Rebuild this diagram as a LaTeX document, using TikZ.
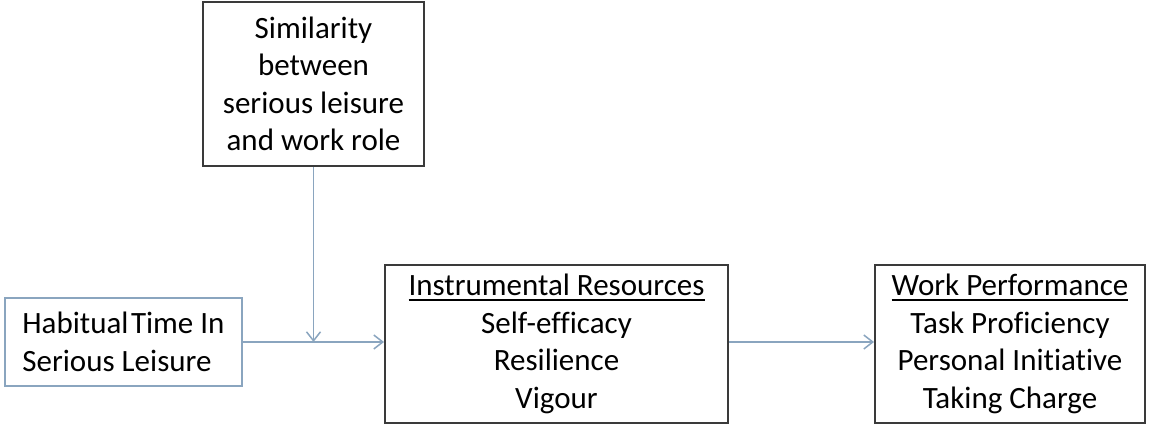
\documentclass[tikz,border=0pt]{standalone}
\usepackage{fontspec}
\setmainfont{Carlito}[Ligatures=NoCommon]
\usetikzlibrary{arrows.meta}
\definecolor{bluegray}{HTML}{8AA5BF}
\definecolor{boxline}{HTML}{3A3A3A}
\newcommand\ulx[1]{\leavevmode\vtop{\hbox{#1}\kern2.5pt\hrule height 2pt}}
\tikzset{
  blackbox/.style={draw=boxline, line width=2pt, fill=white, align=center,
    font=\fontsize{31}{37.5}\selectfont, inner sep=0pt},
  bluebox/.style={draw=bluegray, line width=1.8pt, fill=white, align=left,
    font=\fontsize{31}{37.5}\selectfont, inner sep=0pt},
  conn/.style={draw=bluegray, line width=1.5pt, -{Straight Barb[length=9pt,width=14pt,line width=1.5pt]}},
}
\begin{document}
\begin{tikzpicture}[x=1pt,y=-1pt]
\useasboundingbox (0,0) rectangle (1150,428);
\node[blackbox, minimum width=221pt, minimum height=164pt] (sim) at (313.5,84)
  {Similarity\\between\\serious leisure\\and work role};
\node[bluebox, minimum width=237pt, minimum height=88pt] (hab) at (123.5,342)
  {Habitual\kern0.08em Time In\\Serious Leisure};
\node[blackbox, minimum width=343pt, minimum height=158pt] (ins) at (556.5,344)
  {\ulx{Instrumental Resources}\\Self-efficacy\\Resilience\\Vigour};
\node[blackbox, minimum width=270pt, minimum height=158pt] (wp) at (1010,344)
  {\ulx{Work Performance}\\Task Proficiency\\Personal Initiative\\Taking Charge};
\coordinate (j) at (sim.south |- hab.east);
\draw[conn] (hab.east) -- (hab.east -| ins.west);
\draw[conn] (sim.south) -- (j);
\draw[conn] (ins.east |- hab.east) -- (hab.east -| wp.west);
\end{tikzpicture}
\end{document}
